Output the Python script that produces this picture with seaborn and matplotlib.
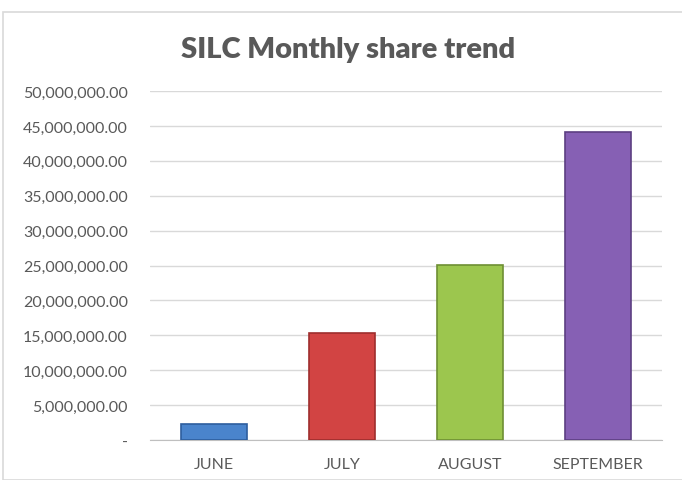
import matplotlib
matplotlib.use("Agg")
import matplotlib.pyplot as plt
import matplotlib.ticker as mticker
from matplotlib.patches import Rectangle
import seaborn as sns
import pandas as pd

# monthly share totals
months = ["JUNE", "JULY", "AUGUST", "SEPTEMBER"]
shares = [2300000, 15300000, 25100000, 44100000]
bar_colors = ["#4A84CC", "#D24443", "#9CC64E", "#8660B4"]
edge_colors = ["#2E5E9E", "#9E2E2D", "#6E8F33", "#5C3F82"]

df = pd.DataFrame({"month": months, "share": shares})

sns.set_style("white")
plt.rcParams["font.family"] = ["Lato", "DejaVu Sans"]

fig = plt.figure(figsize=(6.82, 4.81), dpi=100)
ax = fig.add_axes([150 / 682, 40 / 481, 512 / 682, 349 / 481])

sns.barplot(data=df, x="month", y="share", hue="month", palette=bar_colors,
            saturation=1, width=0.52, legend=False, ax=ax, zorder=3)
for bar, ec in zip(ax.patches, edge_colors):
    bar.set_edgecolor(ec)
    bar.set_linewidth(1.2)

ax.set_ylim(0, 50000000)
ax.set_xlim(-0.5, 3.5)
ax.yaxis.set_major_locator(mticker.MultipleLocator(5000000))
ax.yaxis.set_major_formatter(mticker.FuncFormatter(
    lambda v, p: "-" if v == 0 else f"{v:,.2f}"))
ax.grid(axis="y", color="#D9D9D9", linewidth=1, zorder=0)
for s in ["top", "right", "left"]:
    ax.spines[s].set_visible(False)
ax.spines["bottom"].set_color("#BFBFBF")
ax.tick_params(axis="both", length=0, labelsize=11.5, colors="#595959")
ax.tick_params(axis="y", pad=16)
ax.tick_params(axis="x", pad=12)
ax.set_xlabel("")
ax.set_ylabel("")

fig.text(348 / 682, 1 - 50 / 481, "SILC Monthly share trend", ha="center",
         va="center", fontsize=21, fontweight="heavy", color="#595959")

# chart frame
fig.patches.append(Rectangle((3 / 682, 0), 700 / 682, 1 - 13 / 481,
                             transform=fig.transFigure, fill=False,
                             edgecolor="#D9D9D9", linewidth=1.2))

fig.savefig("out.png", dpi=100)
